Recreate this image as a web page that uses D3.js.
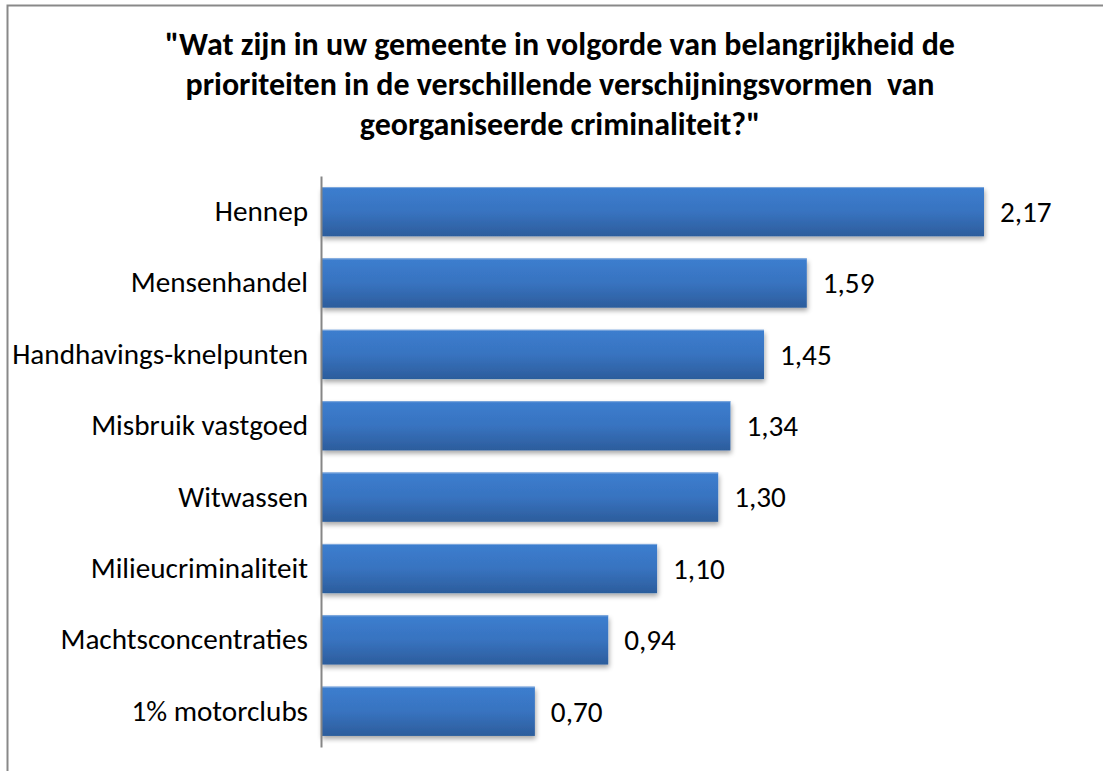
<!DOCTYPE html>
<html>
<head>
<meta charset="utf-8">
<script src="https://cdn.jsdelivr.net/npm/d3@7"></script>
<style>
  body { margin: 0; background: #fff; }
  svg text { font-family: Carlito, "Open Sans", "Noto Sans", sans-serif; fill: #000; }
</style>
</head>
<body>
<div id="chart"></div>
<script>
var categories = ["Hennep", "Mensenhandel", "Handhavings-knelpunten", "Misbruik vastgoed",
    "Witwassen", "Milieucriminaliteit", "Machtsconcentraties", "1% motorclubs"];
var values = [2.17, 1.59, 1.45, 1.34, 1.30, 1.10, 0.94, 0.70];
var titleLines = ["\"Wat zijn in uw gemeente in volgorde van belangrijkheid de",
    "prioriteiten in de verschillende verschijningsvormen  van",
    "georganiseerde criminaliteit?\""];

var width = 1103,
    height = 771,
    margin = {top: 176, left: 321, bottom: 24};

var svg = d3.select("#chart").append("svg")
    .attr("width", width)
    .attr("height", height);

var defs = svg.append("defs");
var grad = defs.append("linearGradient")
    .attr("id", "barGrad")
    .attr("x1", 0).attr("y1", 0).attr("x2", 0).attr("y2", 1);
grad.append("stop").attr("offset", "0%").attr("stop-color", "#3c7ecf");
grad.append("stop").attr("offset", "50%").attr("stop-color", "#3873c0");
grad.append("stop").attr("offset", "100%").attr("stop-color", "#2c5d9c");

var shadow = defs.append("filter")
    .attr("id", "shadow")
    .attr("x", "-5%").attr("y", "-20%").attr("width", "110%").attr("height", "160%");
shadow.append("feGaussianBlur").attr("in", "SourceAlpha").attr("stdDeviation", 2.5);
shadow.append("feOffset").attr("dx", 1).attr("dy", 3).attr("result", "off");
shadow.append("feComponentTransfer").append("feFuncA").attr("type", "linear").attr("slope", 0.35);
var merge = shadow.append("feMerge");
merge.append("feMergeNode");
merge.append("feMergeNode").attr("in", "SourceGraphic");

// chart frame
svg.append("rect")
    .attr("x", 7.5).attr("y", 5.5)
    .attr("width", width + 10).attr("height", height + 10)
    .attr("fill", "none")
    .attr("stroke", "#898989")
    .attr("stroke-width", 2);

// title
var title = svg.append("g")
    .attr("font-weight", "bold");
title.selectAll("text")
    .data(titleLines)
    .enter().append("text")
    .attr("x", 560)
    .attr("y", (d, i) => 55 + i * 40)
    .attr("text-anchor", "middle")
    .attr("font-size", 24)
    .style("white-space", "pre")
    .attr("xml:space", "preserve")
    .text(d => d);
var firstLen = title.select("text").node().getComputedTextLength();
title.selectAll("text").attr("font-size", 24 * 790 / firstLen);

var y = d3.scaleBand()
    .domain(categories)
    .range([margin.top, height - margin.bottom])
    .paddingInner(0.31)
    .paddingOuter(0.155);

var x = d3.scaleLinear()
    .domain([0, 2.17])
    .range([margin.left, 984]);

var bars = svg.append("g");
bars.selectAll("rect")
    .data(values)
    .enter().append("rect")
    .attr("x", x(0))
    .attr("y", (d, i) => y(categories[i]))
    .attr("width", d => x(d) - x(0))
    .attr("height", y.bandwidth())
    .attr("fill", "url(#barGrad)")
    .attr("filter", "url(#shadow)");
bars.selectAll("line")
    .data(values)
    .enter().append("line")
    .attr("x1", x(0))
    .attr("x2", d => x(d))
    .attr("y1", (d, i) => y(categories[i]) + 0.5)
    .attr("y2", (d, i) => y(categories[i]) + 0.5)
    .attr("stroke", "#7fa9dd")
    .attr("stroke-width", 1);

var fmt = d => d3.format(".2f")(d).replace(".", ",");
var labels = svg.append("g");
labels.selectAll("text")
    .data(values)
    .enter().append("text")
    .attr("x", d => x(d) + 16)
    .attr("y", (d, i) => y(categories[i]) + y.bandwidth() / 2)
    .attr("dy", "0.35em")
    .attr("font-size", 20)
    .text(fmt);

var axis = svg.append("g")
    .attr("transform", "translate(" + x(0) + ",0)")
    .call(d3.axisLeft(y).tickSize(0).tickPadding(13));
axis.select(".domain")
    .attr("stroke", "#868686")
    .attr("stroke-width", 2);
axis.selectAll(".tick text")
    .attr("font-family", null)
    .attr("font-size", 20)
    .attr("fill", "#000");

// scale category font so the longest label spans like the original
var longest = axis.selectAll(".tick text").filter(d => d == "Handhavings-knelpunten").node();
var fs = 20 * 296 / longest.getComputedTextLength();
axis.selectAll(".tick text").attr("font-size", fs);
labels.selectAll("text").attr("font-size", fs);
</script>
</body>
</html>
